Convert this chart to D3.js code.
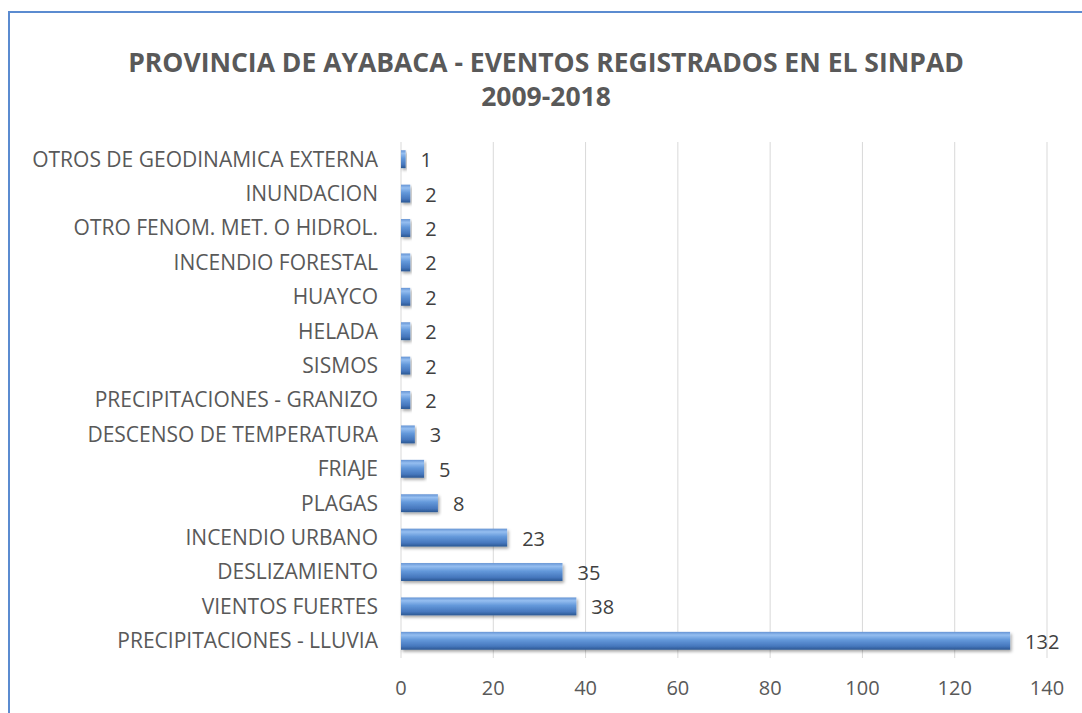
<!DOCTYPE html>
<html>
<head>
<meta charset="utf-8">
<script src="https://cdn.jsdelivr.net/npm/d3@7"></script>
<style>
  body { margin: 0; background: #fff; }
  text { font-family: "Open Sans", "Noto Sans", sans-serif; }
</style>
</head>
<body>
<div id="chart"></div>
<script>
const categories = [
    "OTROS DE GEODINAMICA EXTERNA",
    "INUNDACION",
    "OTRO FENOM. MET. O HIDROL.",
    "INCENDIO FORESTAL",
    "HUAYCO",
    "HELADA",
    "SISMOS",
    "PRECIPITACIONES - GRANIZO",
    "DESCENSO DE TEMPERATURA",
    "FRIAJE",
    "PLAGAS",
    "INCENDIO URBANO",
    "DESLIZAMIENTO",
    "VIENTOS FUERTES",
    "PRECIPITACIONES - LLUVIA"
]
const eventos = [1, 2, 2, 2, 2, 2, 2, 2, 3, 5, 8, 23, 35, 38, 132]
const xTicks = [0, 20, 40, 60, 80, 100, 120, 140]
const titleLines = ["PROVINCIA DE AYABACA - EVENTOS REGISTRADOS EN EL SINPAD", "2009-2018"]

const data = categories.map((c, i) => ({name: c, value: eventos[i]}))

// ----------------------------------------------------------

const width  = 1082;
const height = 713;
const margin = {
    top:    142,
    left:   401
};
const plotW = 646
const plotH = 516

const svg = d3.select("#chart")
    .append("svg")
    .attr("width",  width)
    .attr("height", height)

// chart area border
svg.append("rect")
    .attr("x", 9)
    .attr("y", 12)
    .attr("width", width + 20)
    .attr("height", height + 20)
    .attr("fill", "none")
    .attr("stroke", "#5b8bd0")
    .attr("stroke-width", 2)

const defs = svg.append("defs")
const grad = defs.append("linearGradient")
    .attr("id", "barGrad")
    .attr("x1", 0).attr("y1", 0).attr("x2", 0).attr("y2", 1)
grad.append("stop").attr("offset", "0%").attr("stop-color", "#6594d4")
grad.append("stop").attr("offset", "18%").attr("stop-color", "#95bef0")
grad.append("stop").attr("offset", "45%").attr("stop-color", "#6398da")
grad.append("stop").attr("offset", "80%").attr("stop-color", "#4677bd")
grad.append("stop").attr("offset", "100%").attr("stop-color", "#2a5792")

const shadow = defs.append("filter").attr("id", "shadow")
    .attr("x", "-5%").attr("y", "-30%").attr("width", "115%").attr("height", "180%")
shadow.append("feDropShadow")
    .attr("dx", 1.5).attr("dy", 2).attr("stdDeviation", 1.5)
    .attr("flood-color", "#000").attr("flood-opacity", 0.35)

var x = d3.scaleLinear().domain([0, 140]).range([0, plotW])
var y = d3.scaleBand().domain(categories).range([0, plotH]).paddingInner(0.48).paddingOuter(0.24)

const g = svg.append("g")
    .attr("transform", `translate(${margin.left}, ${margin.top})`)

// gridlines
g.selectAll(".grid")
    .data(xTicks)
    .join("line")
        .attr("x1", d => x(d))
        .attr("x2", d => x(d))
        .attr("y1", 0)
        .attr("y2", plotH)
        .attr("stroke", "#d9d9d9")
        .attr("stroke-width", 1)

// x tick labels
g.selectAll(".xtick")
    .data(xTicks)
    .join("text")
        .text(d => d)
        .attr("x", d => x(d))
        .attr("y", 546)
        .attr("dy", "0.35em")
        .attr("text-anchor", "middle")
        .attr("font-size", 20)
        .attr("fill", "#595959")

// category labels
g.selectAll(".ylab")
    .data(data)
    .join("text")
        .text(d => d.name)
        .attr("x", -23)
        .attr("y", d => y(d.name) + y.bandwidth() / 2)
        .attr("dy", "0.35em")
        .attr("text-anchor", "end")
        .attr("font-size", 21)
        .attr("fill", "#595959")

// bars
g.selectAll(".bar")
    .data(data)
    .join("rect")
        .attr("x", x(0))
        .attr("y", d => y(d.name))
        .attr("width", d => x(d.value))
        .attr("height", y.bandwidth())
        .attr("fill", "url(#barGrad)")
        .attr("filter", "url(#shadow)")

// value labels
g.selectAll(".val")
    .data(data)
    .join("text")
        .text(d => d.value)
        .attr("x", d => x(d.value) + 15)
        .attr("y", d => y(d.name) + y.bandwidth() / 2)
        .attr("dy", "0.4em")
        .attr("font-size", 20)
        .attr("fill", "#404040")

// title
svg.selectAll(".title")
    .data(titleLines)
    .join("text")
        .text(d => d)
        .attr("x", 546)
        .attr("y", (d, i) => 72 + i * 34)
        .attr("text-anchor", "middle")
        .attr("font-size", 26.5)
        .attr("font-weight", "bold")
        .attr("fill", "#595959")
</script>
</body>
</html>
